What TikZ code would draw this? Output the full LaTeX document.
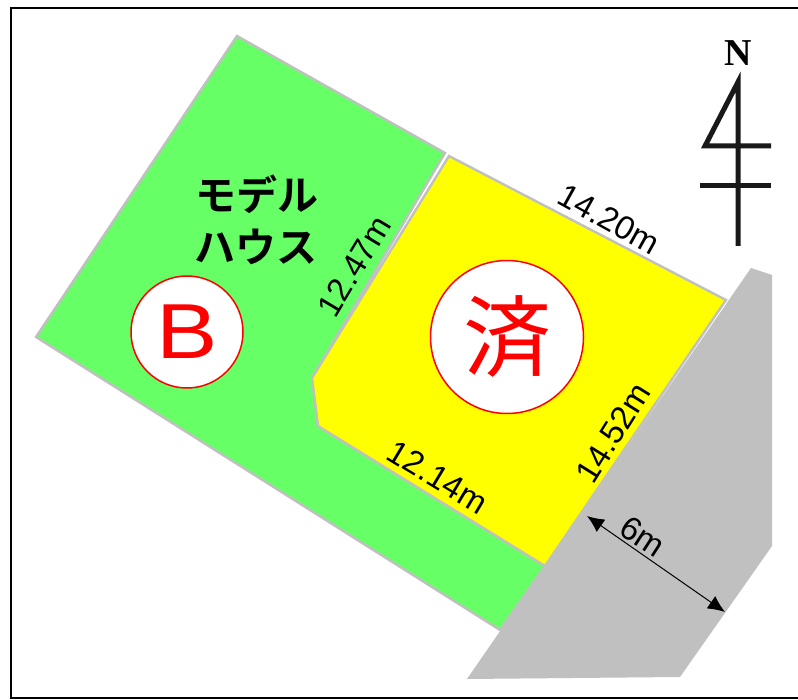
\documentclass[tikz,border=0pt]{standalone}
\usepackage{fontspec}
\setmainfont{Liberation Sans}
\newfontfamily\cjk{Noto Sans CJK JP}
\newfontfamily\cjkb{Noto Sans CJK JP Bold}
\newfontfamily\serifb{Liberation Serif Bold}
\usetikzlibrary{arrows.meta}
\definecolor{lotgreen}{RGB}{102,255,102}
\definecolor{lotgrey}{RGB}{192,192,192}
\definecolor{lotyellow}{RGB}{255,255,0}
\tikzset{
  lot/.style={draw=lotgrey,line width=2.4pt,line join=miter},
  dim/.style={inner sep=0pt,font=\fontsize{33}{33}\selectfont},
  seal/.style={circle,draw=red,fill=white,line width=1.5pt,text=red,inner sep=0pt},
  northline/.style={draw=black!90,line width=5pt},
}
\begin{document}
\begin{tikzpicture}[x=1pt,y=-1pt]
\useasboundingbox (0,0) rectangle (798,700);
\fill[white] (0,0) rectangle (798,700);
% frame
\draw[black,line width=2.4pt] (798,8) -- (11,8) -- (11,698) -- (798,698);
% road
\fill[lotgrey] (751,268) -- (772,275) -- (772,546) -- (680,677) -- (467,679) -- cycle;
% lots
\path[lot,fill=lotgreen] (237,36) -- (445,153) -- (312,378) -- (318,426) -- (545,566) -- (500,630) -- (36,337) -- cycle;
\path[lot,fill=lotyellow] (449,156) -- (726,300) -- (545,566) -- (318,426) -- (312,378) -- cycle;
% seals
\node[seal,minimum size=112pt] (b) at (187,332) {\scalebox{1.18}[1]{\fontsize{78}{78}\selectfont B}};
\node[seal,minimum size=153pt,font=\fontsize{88}{88}\selectfont\cjk] (sumi) at (507,337) {済};
% labels
\node[font=\fontsize{41}{41}\selectfont\cjkb] (model) at (257,194) {モデル};
\node[font=\fontsize{41}{41}\selectfont\cjkb] (house) at (256,247) {ハウス};
\node[dim,rotate=-29] (d1) at (609,219) {14.20m};
\node[dim,rotate=59] (d2) at (354,266) {12.47m};
\node[dim,rotate=-31] (d3) at (438,477) {12.14m};
\node[dim,rotate=58] (d4) at (613,433) {14.52m};
\node[dim,rotate=-33] (d5) at (643,536) {6m};
% dimension arrow
\coordinate (a1) at (587,516);
\coordinate (a2) at (725,612);
\draw[black,line width=1pt,{Latex[length=17pt,width=15pt]}-{Latex[length=17pt,width=15pt]}] (a1) -- (a2);
% north mark
\node[font=\fontsize{38}{38}\selectfont\serifb,inner sep=0pt] (n) at (738,53) {N};
\draw[northline,line join=miter] (738,246) -- (738,82) -- (705,146) -- (771,146);
\draw[northline] (700,186) -- (771,186);
\end{tikzpicture}
\end{document}
